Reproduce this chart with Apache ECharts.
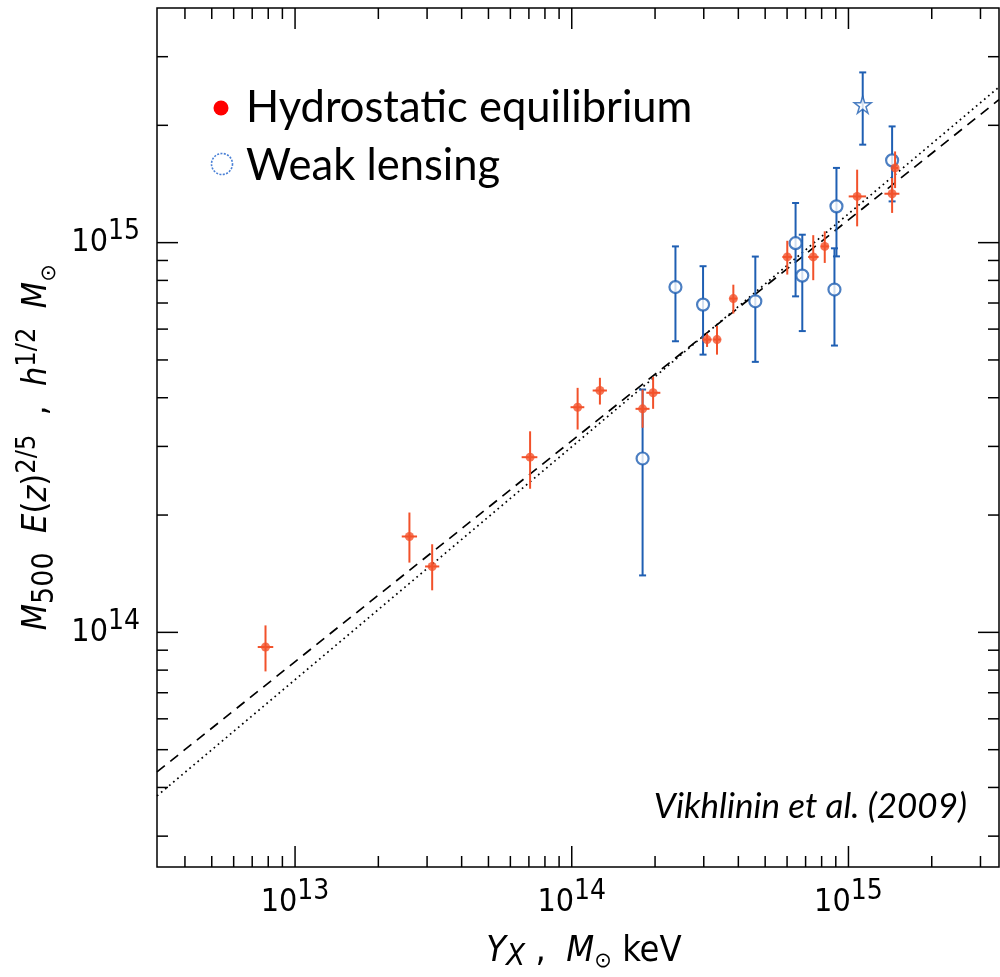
<!DOCTYPE html>
<html><head><meta charset="utf-8">
<script src="https://cdn.jsdelivr.net/npm/echarts@6/dist/echarts.min.js"></script>
<style>html,body{margin:0;padding:0;background:#fff}#c{width:1000px;height:977px}</style>
</head><body><div id="c"></div>
<script>
// axis ranges
const xMin = 3.17e12, xMax = 3.5e15, yMin = 2.5e13, yMax = 4e15;
const xMajorTicks = [1e13, 1e14, 1e15];
const xMinorTicks = [4e12,5e12,6e12,7e12,8e12,9e12, 2e13,3e13,4e13,5e13,6e13,7e13,8e13,9e13, 2e14,3e14,4e14,5e14,6e14,7e14,8e14,9e14, 2e15,3e15];
const yMajorTicks = [1e14, 1e15];
const yMinorTicks = [3e13,4e13,5e13,6e13,7e13,8e13,9e13, 2e14,3e14,4e14,5e14,6e14,7e14,8e14,9e14, 2e15,3e15];

// Hydrostatic equilibrium
const hydroX     = [7.82e12, 2.59e13, 3.13e13, 7.07e13, 1.05e14, 1.264e14, 1.803e14, 1.968e14, 3.083e14, 3.349e14, 3.837e14, 6.01e14, 7.46e14, 8.21e14, 1.075e15, 1.438e15, 1.474e15];
const hydroY     = [9.17e13, 1.762e14, 1.476e14, 2.815e14, 3.782e14, 4.174e14, 3.746e14, 4.118e14, 5.64e14, 5.64e14, 7.185e14, 9.19e14, 9.19e14, 9.78e14, 1.314e15, 1.335e15, 1.555e15];
const hydroYLow  = [7.94e13, 1.51e14, 1.282e14, 2.336e14, 3.315e14, 3.842e14, 3.349e14, 3.746e14, 5.40e14, 5.16e14, 6.577e14, 8.28e14, 8.01e14, 8.87e14, 1.101e15, 1.192e15, 1.380e15];
const hydroYHigh = [1.042e14, 2.03e14, 1.683e14, 3.28e14, 4.24e14, 4.50e14, 4.198e14, 4.525e14, 5.845e14, 6.11e14, 7.80e14, 1.011e15, 1.045e15, 1.069e15, 1.539e15, 1.465e15, 1.714e15];
const hydroXLow  = [7.33e12, 2.43e13, 2.95e13, 6.59e13, 0.99e14, 1.19e14, 1.70e14, 1.86e14, 2.97e14, 3.25e14, 3.72e14, 5.77e14, 7.15e14, 7.95e14, 1.002e15, 1.349e15, 1.44e15];
const hydroXHigh = [8.34e12, 2.76e13, 3.32e13, 7.51e13, 1.11e14, 1.34e14, 1.91e14, 2.09e14, 3.20e14, 3.45e14, 3.96e14, 6.26e14, 7.80e14, 8.48e14, 1.158e15, 1.528e15, 1.51e15];

// Weak lensing
const lensX     = [1.803e14, 2.37e14, 2.982e14, 4.607e14, 6.44e14, 6.81e14, 8.90e14, 9.05e14, 1.438e15];
const lensY     = [2.793e14, 7.69e14, 6.934e14, 7.07e14, 9.97e14, 8.23e14, 7.58e14, 1.239e15, 1.626e15];
const lensYLow  = [1.40e14, 5.584e14, 5.16e14, 4.944e14, 7.28e14, 5.93e14, 5.444e14, 9.22e14, 1.276e15];
const lensYHigh = [4.198e14, 9.78e14, 8.70e14, 9.21e14, 1.264e15, 1.048e15, 9.67e14, 1.555e15, 1.987e15];
const starX = [1.126e15], starY = [2.258e15], starYLow = [1.784e15], starYHigh = [2.734e15];

// fitted relations (end points)
const fitX = [3.17e12, 3.5e15];
const fitDashedY = [4.385e13, 2.327e15];
const fitDottedY = [3.805e13, 2.507e15];

const RED = '#f2512a', BLUE = '#1f5fb3';
const NARROW = "'Liberation Sans Narrow','DejaVu Sans Condensed','Liberation Sans',sans-serif";

const chart = echarts.init(document.getElementById('c'), null, {renderer: 'canvas'});

function errBarRender(color, cap, withX) {
  return function (params, api) {
    const x = api.value(0), y = api.value(1);
    const pl = api.coord([x, api.value(2)]), ph = api.coord([x, api.value(3)]);
    const st = {stroke: color, lineWidth: 2};
    const ch = [{type: 'line', shape: {x1: pl[0], y1: pl[1], x2: ph[0], y2: ph[1]}, style: st}];
    if (cap) {
      ch.push({type: 'line', shape: {x1: pl[0] - cap, y1: pl[1], x2: pl[0] + cap, y2: pl[1]}, style: st});
      ch.push({type: 'line', shape: {x1: ph[0] - cap, y1: ph[1], x2: ph[0] + cap, y2: ph[1]}, style: st});
    }
    if (withX) {
      const xl = api.coord([api.value(4), y]), xh = api.coord([api.value(5), y]);
      ch.push({type: 'line', shape: {x1: xl[0], y1: xl[1], x2: xh[0], y2: xh[1]}, style: st});
    }
    return {type: 'group', children: ch};
  };
}

function tickRender(isX) {
  return function (params, api) {
    const v = isX ? api.value(0) : api.value(1);
    const len = api.value(2) ? 21 : 11;
    const st = {stroke: '#000', lineWidth: 1.5};
    if (isX) {
      const b = api.coord([v, yMin]), t = api.coord([v, yMax]);
      return {type: 'group', children: [
        {type: 'line', shape: {x1: b[0], y1: b[1], x2: b[0], y2: b[1] - len}, style: st},
        {type: 'line', shape: {x1: t[0], y1: t[1], x2: t[0], y2: t[1] + len}, style: st}]};
    } else {
      const l = api.coord([xMin, v]), r = api.coord([xMax, v]);
      return {type: 'group', children: [
        {type: 'line', shape: {x1: l[0], y1: l[1], x2: l[0] + len, y2: l[1]}, style: st},
        {type: 'line', shape: {x1: r[0], y1: r[1], x2: r[0] - len, y2: r[1]}, style: st}]};
    }
  };
}

const powLabel = v => '{b|10}{s|' + Math.round(Math.log10(v)) + '}';
const powRich = {
  b: {fontFamily: NARROW, fontSize: 32, lineHeight: 50, verticalAlign: 'middle', color: '#000'},
  s: {fontFamily: NARROW, fontSize: 28, lineHeight: 12, verticalAlign: 'top', color: '#000'}
};

const xTickData = xMajorTicks.map(v => [v, yMin, 1]).concat(xMinorTicks.map(v => [v, yMin, 0]));
const yTickData = yMajorTicks.map(v => [xMin, v, 1]).concat(yMinorTicks.map(v => [xMin, v, 0]));

const option = {
  animation: false,
  backgroundColor: '#fff',
  grid: {left: 157, right: 1, top: 8, bottom: 110, show: true, borderColor: '#000', borderWidth: 1.5, backgroundColor: 'transparent'},
  xAxis: {
    type: 'log', logBase: 10, min: xMin, max: xMax,
    axisLine: {show: false}, axisTick: {show: false}, splitLine: {show: false},
    axisLabel: {customValues: xMajorTicks, margin: 11, formatter: powLabel, rich: powRich, showMinLabel: true, showMaxLabel: true, hideOverlap: false},
    name: '{i|Y}{xs|X}{n| ,  }{i|M}{ss|\u2299}{n| keV}',
    nameLocation: 'middle', nameGap: 65,
    nameTextStyle: {
      padding: [0, 0, 0, 12],
      rich: {
        i: {fontFamily: NARROW, fontStyle: 'italic', fontSize: 36, lineHeight: 40, verticalAlign: 'middle', color: '#000'},
        n: {fontFamily: NARROW, fontSize: 36, lineHeight: 40, verticalAlign: 'middle', color: '#000'},
        xs: {fontFamily: NARROW, fontStyle: 'italic', fontSize: 31, lineHeight: 16, verticalAlign: 'bottom', color: '#000'},
        ss: {fontFamily: "'DejaVu Sans',sans-serif", fontSize: 21, lineHeight: 16, verticalAlign: 'bottom', color: '#000'}
      }
    }
  },
  yAxis: {
    type: 'log', logBase: 10, min: yMin, max: yMax,
    axisLine: {show: false}, axisTick: {show: false}, splitLine: {show: false},
    axisLabel: {customValues: yMajorTicks, margin: 17, formatter: powLabel, rich: powRich, showMinLabel: true, showMaxLabel: true, hideOverlap: false},
    name: '{i|M}{sb|500}{i|  E}{n|(}{i|z}{n|)}{sp|2/5}{n|  ,  }{i|h}{sp|1/2}{i|  M}{ss|\u2299}{n|  }',
    nameLocation: 'middle', nameRotate: 90, nameGap: 92,
    nameTextStyle: {
      rich: {
        i: {fontFamily: NARROW, fontStyle: 'italic', fontSize: 34, lineHeight: 46, verticalAlign: 'middle', color: '#000'},
        n: {fontFamily: NARROW, fontSize: 34, lineHeight: 46, verticalAlign: 'middle', color: '#000'},
        sb: {fontFamily: NARROW, fontSize: 30, lineHeight: 18, verticalAlign: 'bottom', color: '#000'},
        sp: {fontFamily: NARROW, fontSize: 27, lineHeight: 14, verticalAlign: 'top', color: '#000'},
        ss: {fontFamily: "'DejaVu Sans',sans-serif", fontSize: 21, lineHeight: 18, verticalAlign: 'bottom', color: '#000'}
      }
    }
  },
  graphic: [
    {type: 'circle', shape: {cx: 221, cy: 108, r: 7.5}, style: {fill: '#ff0000'}, silent: true},
    {type: 'circle', shape: {cx: 222, cy: 164, r: 10.5}, style: {fill: 'none', stroke: '#4a80d6', lineWidth: 1.6, lineDash: [2, 1.4]}, silent: true},
    {type: 'text', x: 246, y: 108, silent: true, style: {text: 'Hydrostatic equilibrium', fontFamily: 'Lato', fontSize: 43.5, fill: '#000', align: 'left', verticalAlign: 'middle', textAlign: 'left', textVerticalAlign: 'middle'}},
    {type: 'text', x: 246, y: 166, silent: true, style: {text: 'Weak lensing', fontFamily: 'Lato', fontSize: 43.5, fill: '#000', align: 'left', verticalAlign: 'middle', textAlign: 'left', textVerticalAlign: 'middle'}},
    {type: 'text', x: 967, y: 807, silent: true, style: {text: 'Vikhlinin et al. (2009)', fontFamily: 'Lato', fontStyle: 'italic', fontSize: 35, fill: '#000', align: 'right', verticalAlign: 'middle', textAlign: 'right', textVerticalAlign: 'middle'}}
  ],
  series: [
    {type: 'line', data: fitX.map((x, i) => [x, fitDashedY[i]]), symbol: 'none', lineStyle: {color: '#000', width: 1.7, type: [10, 7]}, silent: true, z: 2},
    {type: 'line', data: fitX.map((x, i) => [x, fitDottedY[i]]), symbol: 'none', lineStyle: {color: '#000', width: 1.7, type: [1.7, 3.6]}, silent: true, z: 2},
    {type: 'custom', renderItem: errBarRender(BLUE, 3.5, false), data: lensX.map((x, i) => [x, lensY[i], lensYLow[i], lensYHigh[i]]), encode: {x: 0, y: 1}, z: 3, silent: true},
    {type: 'custom', renderItem: errBarRender(BLUE, 3.5, false), data: starX.map((x, i) => [x, starY[i], starYLow[i], starYHigh[i]]), encode: {x: 0, y: 1}, z: 3, silent: true},
    {type: 'scatter', data: lensX.map((x, i) => [x, lensY[i]]), symbol: 'circle', symbolSize: 12, itemStyle: {color: '#fff', borderColor: BLUE, borderWidth: 2.2}, z: 4, silent: true},
    {type: 'scatter', data: starX.map((x, i) => [x, starY[i]]), symbol: 'path://M50,2 L61.8,38 L99.5,38 L69,60.5 L80.6,96.5 L50,74 L19.4,96.5 L31,60.5 L0.5,38 L38.2,38 Z', symbolSize: 17, itemStyle: {color: '#fff', borderColor: BLUE, borderWidth: 1.5}, z: 4, silent: true},
    {type: 'custom', renderItem: errBarRender(RED, 0, true), data: hydroX.map((x, i) => [x, hydroY[i], hydroYLow[i], hydroYHigh[i], hydroXLow[i], hydroXHigh[i]]), encode: {x: 0, y: 1}, z: 5, silent: true},
    {type: 'scatter', data: hydroX.map((x, i) => [x, hydroY[i]]), symbol: 'circle', symbolSize: 9, itemStyle: {color: RED}, z: 6, silent: true},
    {type: 'custom', renderItem: tickRender(true), data: xTickData, encode: {x: 0, y: 1}, z: 7, silent: true},
    {type: 'custom', renderItem: tickRender(false), data: yTickData, encode: {x: 0, y: 1}, z: 7, silent: true}
  ]
};
chart.setOption(option);
</script>
</body></html>
